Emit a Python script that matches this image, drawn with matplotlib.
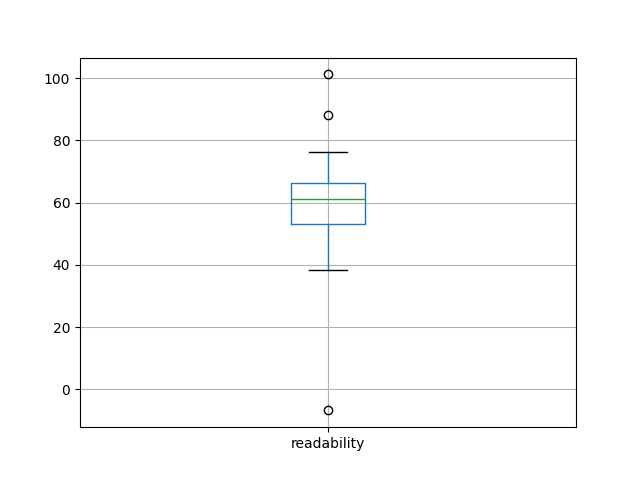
# Box plot of readability scores
import matplotlib
matplotlib.use("Agg")
import matplotlib.pyplot as plt

# Summary values
label    = "readability"
q1       = 53.0
median   = 61.0
q3       = 66.2
whislo   = 38.2
whishi   = 76.2
fliers   = [101.2, 88.0, -6.8]

# Build the stats for bxp
stats = [{
    "label": label,
    "q1": q1,
    "med": median,
    "q3": q3,
    "whislo": whislo,
    "whishi": whishi,
    "fliers": fliers,
}]

fig, ax = plt.subplots(figsize=(6.4, 4.8), dpi=100)
ax.bxp(stats,
       boxprops=dict(color="C0"),
       whiskerprops=dict(color="C0"),
       medianprops=dict(color="C2"),
       capprops=dict(color="k"),
       flierprops=dict(marker="o", markeredgecolor="k"))
ax.grid(True)
fig.savefig("out.png")
